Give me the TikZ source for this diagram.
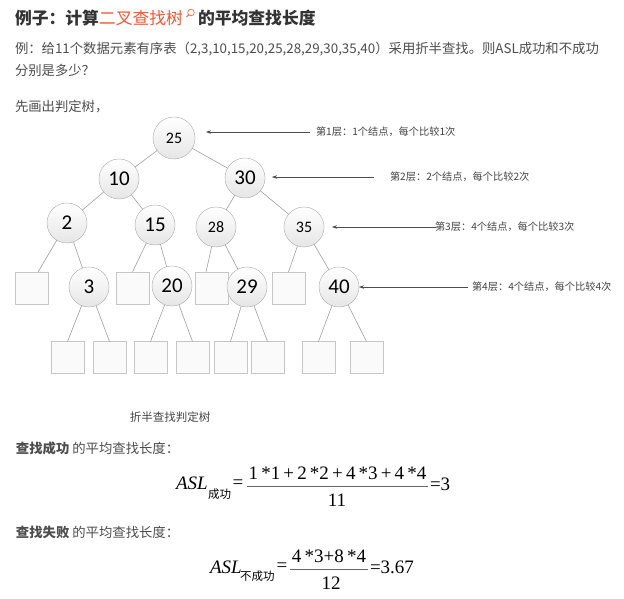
\documentclass[tikz,border=0pt]{standalone}
\usepackage{fontspec}
\newfontfamily\cjk{Noto Sans CJK SC}
\newfontfamily\numfont{Carlito}
\newfontfamily\tms{Liberation Serif}
\usetikzlibrary{arrows.meta,shadows}
\definecolor{txt}{HTML}{4D4D4D}
\definecolor{ttl}{HTML}{333333}
\definecolor{hl}{HTML}{FC5531}
\definecolor{lbl}{HTML}{444444}
\begin{document}
\begin{tikzpicture}[x=1pt,y=-1pt,
  every node/.style={inner sep=0pt, outer sep=0pt},
  tnode/.style={circle, draw=gray!65, top color=white, bottom color=gray!20, minimum size=40pt, font=\numfont\fontsize{21}{21}\selectfont, text=black},
  tsmall/.style={tnode, font=\numfont\fontsize{16}{16}\selectfont},
  leaf/.style={rectangle, draw=gray!45, fill=gray!4, minimum width=33pt, minimum height=32pt, drop shadow={shadow xshift=0.9pt, shadow yshift=-0.9pt, fill=gray!70, opacity=0.8}},
  edge/.style={draw=gray!75, line width=0.6pt},
  arr/.style={draw=black!70, line width=0.6pt, -{Stealth[length=5pt,width=3.5pt]}},
  lvl/.style={anchor=west, font=\cjk\fontsize{10.2}{11}\selectfont, text=lbl},
  body/.style={anchor=base west, font=\cjk\fontsize{13.35}{14}\selectfont, text=txt},
  ttlstyle/.style={anchor=base west, font=\cjk\bfseries\fontsize{16.8}{17}\selectfont, text=ttl},
  eqf/.style={font=\tms\fontsize{19}{19}\selectfont, text=black},
  eqsub/.style={anchor=base west, font=\cjk\fontsize{11.5}{12}\selectfont, text=black},
  capstyle/.style={font=\cjk\fontsize{11.5}{12}\selectfont, text=lbl}
]
\useasboundingbox[fill=white] (0,0) rectangle (624,599);

% ---- header text ----
\node[ttlstyle] (t1) at (15,25) {例子：计算{\mdseries\color{hl}二叉查找树}};
\coordinate (ic) at ([xshift=8pt,yshift=12.5pt]t1.base east);
\draw[hl, line width=0.6pt] (ic) circle (3.3pt);
\draw[hl, line width=0.8pt] ([xshift=-2.3pt,yshift=-2.3pt]ic) -- ([xshift=-4.5pt,yshift=-4.5pt]ic);
\node[ttlstyle] (t2) at ([xshift=15pt]t1.base east) {的平均查找长度};

\node[body] (l2) at (15,54) {例：给11个数据元素有序表（2,3,10,15,20,25,28,29,30,35,40）采用折半查找。则ASL成功和不成功};
\node[body] (l3) at (15,76) {分别是多少？};
\node[body] (l4) at (15,112) {先画出判定树，};

% ---- leaf boxes ----
\node[leaf] (b1) at (32,288) {};
\node[leaf] (b2) at (132.5,288) {};
\node[leaf] (b3) at (212,288) {};
\node[leaf] (b4) at (288.5,288) {};
\node[leaf] (L1) at (67.5,357.5) {};
\node[leaf] (L2) at (109.5,357.5) {};
\node[leaf] (L3) at (150.5,357.5) {};
\node[leaf] (L4) at (192.5,357.5) {};
\node[leaf] (L5) at (230.5,357.5) {};
\node[leaf] (L6) at (267.5,357.5) {};
\node[leaf] (L7) at (318.5,357.5) {};
\node[leaf] (L8) at (366.5,357.5) {};

% ---- tree nodes ----
\node[tsmall, minimum size=42pt] (n25) at (174,138) {25};
\node[tnode] (n10) at (119,179) {10};
\node[tnode] (n30) at (245,178) {30};
\node[tnode] (n2) at (67,223) {2};
\node[tnode] (n15) at (155,225) {15};
\node[tsmall] (n28) at (216,227) {28};
\node[tsmall] (n35) at (304,227) {35};
\node[tnode] (n3) at (89,287) {3};
\node[tnode] (n20) at (172,286) {20};
\node[tnode] (n29) at (247,287) {29};
\node[tnode] (n40) at (339,287) {40};

% ---- edges ----
\draw[edge] (n25) -- (n10);
\draw[edge] (n25) -- (n30);
\draw[edge] (n10) -- (n2);
\draw[edge] (n10) -- (n15);
\draw[edge] (n30) -- (n28);
\draw[edge] (n30) -- (n35);
\draw[edge] (n2) -- ([xshift=6pt]b1.north);
\draw[edge] (n2) -- (n3);
\draw[edge] (n15) -- (b2.north);
\draw[edge] (n15) -- (n20);
\draw[edge] (n28) -- ([xshift=-6pt]b3.north);
\draw[edge] (n28) -- (n29);
\draw[edge] (n35) -- (b4.north);
\draw[edge] (n35) -- (n40);
\draw[edge] (n3) -- (L1.north);
\draw[edge] (n3) -- (L2.north);
\draw[edge] (n20) -- (L3.north);
\draw[edge] (n20) -- (L4.north);
\draw[edge] (n29) -- (L5.north);
\draw[edge] (n29) -- (L6.north);
\draw[edge] (n40) -- (L7.north);
\draw[edge] (n40) -- (L8.north);

% ---- level arrows and labels ----
\coordinate (s1) at (310,132); \coordinate (e1) at (206,132);
\coordinate (s2) at (374,177); \coordinate (e2) at (272,177);
\coordinate (s3) at (436,227); \coordinate (e3) at (332,227);
\coordinate (s4) at (468,287); \coordinate (e4) at (359,287);
\draw[arr] (s1) -- (e1);
\draw[arr] (s2) -- (e2);
\draw[arr] (s3) -- (e3);
\draw[arr] (s4) -- (e4);
\node[lvl] (lab1) at (316,132) {第1层：1个结点，每个比较1次};
\node[lvl] (lab2) at (390,177) {第2层：2个结点，每个比较2次};
\node[lvl] (lab3) at (435,227) {第3层：4个结点，每个比较3次};
\node[lvl] (lab4) at (472,287) {第4层：4个结点，每个比较4次};

\node[capstyle] (cap) at (170,417) {折半查找判定树};

% ---- formulas ----
\node[body] (s1t) at (16,453) {{\bfseries 查找成功} 的平均查找长度：};
\node[eqf, anchor=base west] (asl1) at (176,489) {\textit{ASL}};
\node[eqsub] (sub1) at (208,498) {成功};
\node[eqf] (eq1) at (238,484) {=};
\node[eqf] (num1) at (337.5,473) {1\,*1\,+\,2\,*2\,+\,4\,*3\,+\,4\,*4};
\node[eqf] (den1) at (337,500) {11};
\coordinate (bl1) at (247,486); \coordinate (br1) at (428,486);
\draw[gray!80!black, line width=0.9pt] (bl1) -- (br1);
\node[eqf, anchor=base west] (r1) at (430,490) {=3};

\node[body] (s2t) at (16,537) {{\bfseries 查找失败} 的平均查找长度：};
\node[eqf, anchor=base west] (asl2) at (210,573) {\textit{ASL}};
\node[eqsub] (sub2) at (240,580) {不成功};
\node[eqf] (eq2) at (282,567) {=};
\node[eqf] (num2) at (329,556) {4\,*3+8\,*4};
\node[eqf] (den2) at (331,583) {12};
\coordinate (bl2) at (290,569.3); \coordinate (br2) at (368,569.3);
\draw[gray!80!black, line width=0.9pt] (bl2) -- (br2);
\node[eqf, anchor=base west] (r2) at (370,573) {=3.67};
\end{tikzpicture}
\end{document}
